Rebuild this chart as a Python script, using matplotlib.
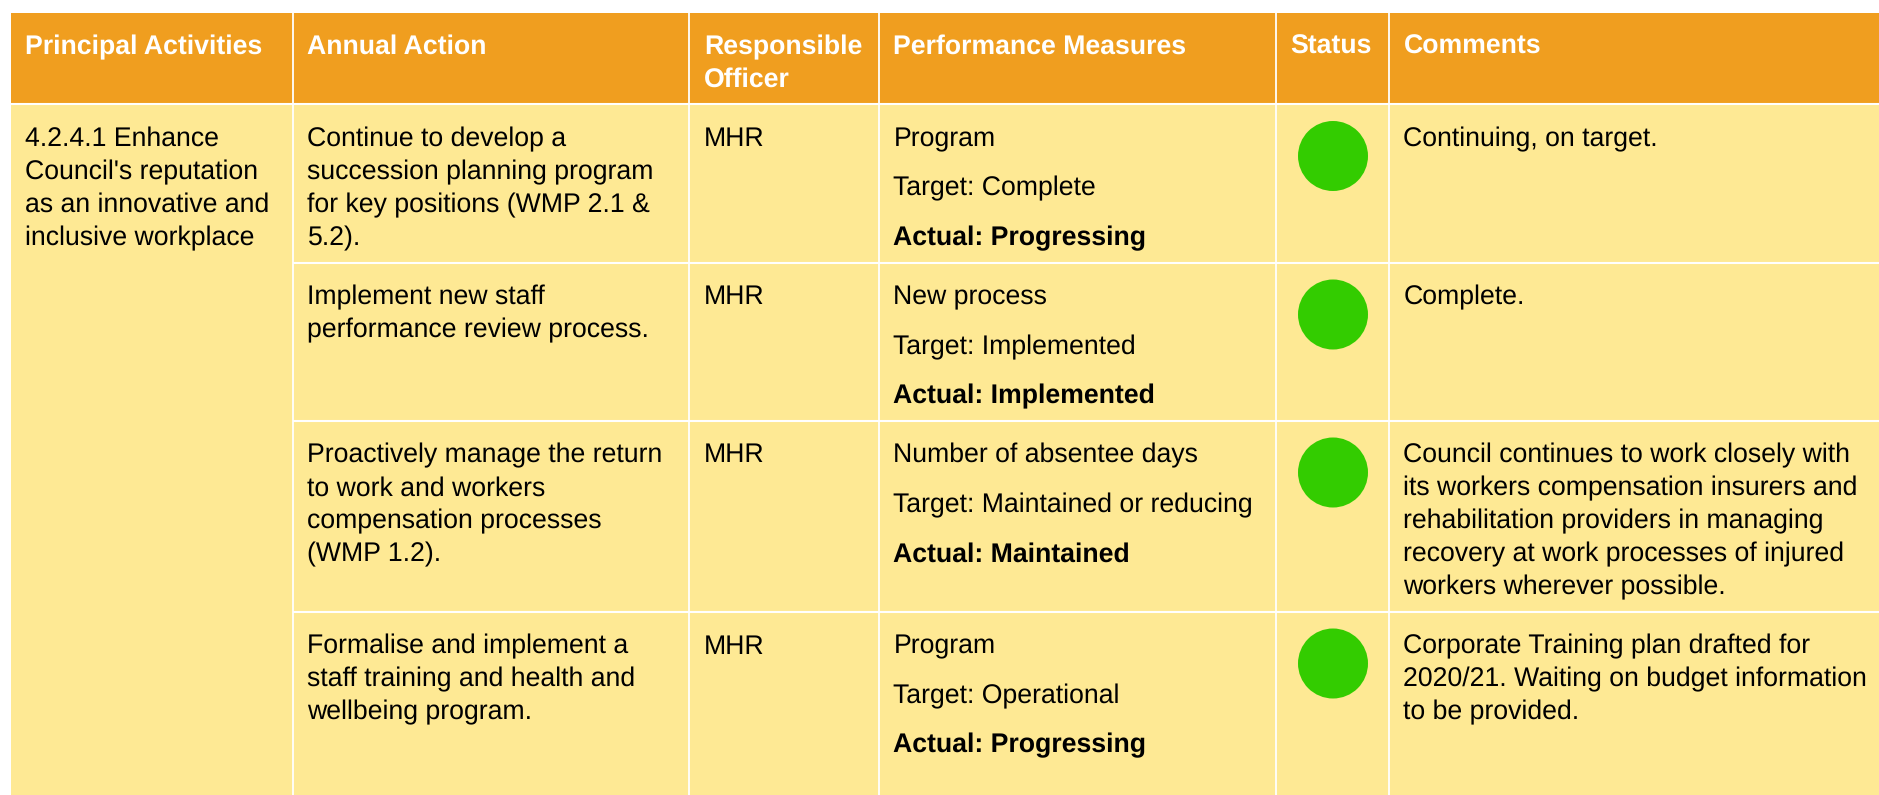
import matplotlib
matplotlib.use("Agg")
import matplotlib.pyplot as plt
from matplotlib.patches import Rectangle, Ellipse

plt.rcParams['font.family'] = ['Liberation Sans', 'DejaVu Sans']
plt.rcParams['text.hinting'] = 'no_hinting'
plt.rcParams['text.hinting_factor'] = 8

# table text
headers = ["Principal Activities", "Annual Action", "Responsible\nOfficer",
           "Performance Measures", "Status", "Comments"]
principal = ["4.2.4.1 Enhance", "Council's reputation", "as an innovative and", "inclusive workplace"]
actions = [
    ["Continue to develop a", "succession planning program", "for key positions (WMP 2.1 &", "5.2)."],
    ["Implement new staff", "performance review process."],
    ["Proactively manage the return", "to work and workers", "compensation processes", "(WMP 1.2)."],
    ["Formalise and implement a", "staff training and health and", "wellbeing program."],
]
officers = ["MHR", "MHR", "MHR", "MHR"]
measures = ["Program", "New process", "Number of absentee days", "Program"]
targets = ["Target: Complete", "Target: Implemented", "Target: Maintained or reducing", "Target: Operational"]
actuals = ["Actual: Progressing", "Actual: Implemented", "Actual: Maintained", "Actual: Progressing"]
comments = [
    ["Continuing, on target."],
    ["Complete."],
    ["Council continues to work closely with", "its workers compensation insurers and",
     "rehabilitation providers in managing", "recovery at work processes of injured",
     "workers wherever possible."],
    ["Corporate Training plan drafted for", "2020/21. Waiting on budget information", "to be provided."],
]

W, H = 1879, 795
fig = plt.figure(figsize=(W / 100, H / 100), dpi=100, facecolor='white')
ax = fig.add_axes([0, 0, 1, 1])
ax.set_xlim(0, W)
ax.set_ylim(H, 0)
ax.axis('off')

ORANGE = '#F09E1F'
YELLOW = '#FEE994'
GREEN = '#33CC00'
FS = 19.2
FS_BOLD = 19.2
PITCH = 33

col_x = [11, 293, 689.5, 879, 1276, 1389, W + 2]
row_y = [104, 262.5, 420.5, 611.5]

# backgrounds
ax.add_patch(Rectangle((11, 13), W - 11, 91, fc=ORANGE, ec='none'))
ax.add_patch(Rectangle((11, 104), W - 11, H - 104, fc=YELLOW, ec='none'))

# white grid lines
for x in col_x[1:-1]:
    ax.plot([x, x], [13, H], color='white', lw=1.3, solid_capstyle='butt')
ax.plot([11, W], [104, 104], color='white', lw=1.5, solid_capstyle='butt')
for y in row_y[1:]:
    ax.plot([col_x[1], W], [y, y], color='white', lw=1.5, solid_capstyle='butt')

pad = 14.5


def put(x, y, s, color='black', bold=False):
    ax.text(x, y, s, fontsize=FS_BOLD if bold else FS, va='baseline', ha='left', color=color,
            fontweight='bold' if bold else 'normal')


# header
for i, h in enumerate(headers):
    for j, line in enumerate(h.split("\n")):
        x = col_x[i] + pad
        if h == "Status":
            x = col_x[i] + 14
        put(x, 54 + j * PITCH, line, color='white', bold=True)

# first column
for j, line in enumerate(principal):
    put(col_x[0] + 14, 146 + j * PITCH, line)

# rows
for r, top in enumerate(row_y):
    base = top + 42
    for j, line in enumerate(actions[r]):
        put(col_x[1] + pad, base + j * PITCH, line)
    put(col_x[2] + pad, base, officers[r])
    put(col_x[3] + pad, base, measures[r])
    put(col_x[3] + pad, base + 49.5, targets[r])
    put(col_x[3] + pad, base + 99, actuals[r], bold=True)
    ax.add_patch(Ellipse((1333, top + 52), 70, 70, fc=GREEN, ec='none'))
    for j, line in enumerate(comments[r]):
        put(col_x[5] + pad, base + j * PITCH, line)

fig.savefig('out.png', dpi=100)
